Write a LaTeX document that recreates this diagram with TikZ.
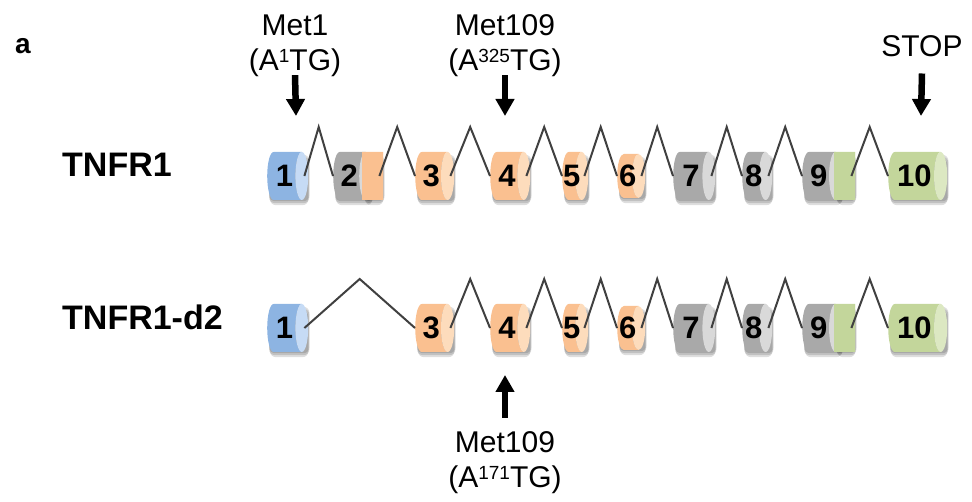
\documentclass[tikz,border=0pt]{standalone}
\usepackage{fontspec}
\setmainfont{Liberation Sans}
\usetikzlibrary{arrows.meta,shapes,positioning,backgrounds,calc}

\definecolor{exBlue}{HTML}{8DB4E2}
\definecolor{exBlueEnd}{HTML}{C6DBF5}
\definecolor{exOrange}{HTML}{FAC090}
\definecolor{exOrangeEnd}{HTML}{FDDCBC}
\definecolor{exGray}{HTML}{A9A9A9}
\definecolor{exGrayEnd}{HTML}{D9D9D9}
\definecolor{exGreen}{HTML}{C3D69B}
\definecolor{exGreenEnd}{HTML}{DCE8C2}
\definecolor{intronCol}{HTML}{404040}

\newcommand{\lblfont}{\fontsize{30}{35}\selectfont}
\newcommand{\sups}[1]{\raisebox{8.5pt}{\fontsize{19}{19}\selectfont #1}}
\newcommand{\exn}[1]{\makebox[0pt]{#1}}
\newcommand{\intron}[2]{\draw[intron] ([xshift=-4pt]#1.east) -- ($([xshift=-4pt]#1.east)!.5!(#2.west)+(0,-49)$) -- (#2.west);}

% cylinder: minimum height runs along the axis, minimum width is the diameter
\tikzstyle{exon} = [cylinder, shape border rotate=0, shape aspect=.6, cylinder uses custom fill, inner sep=0pt, minimum width=48pt, font=\fontsize{31}{31}\selectfont\bfseries]
\tikzstyle{exblue} = [exon, cylinder body fill=exBlue, cylinder end fill=exBlueEnd]
\tikzstyle{exorange} = [exon, cylinder body fill=exOrange, cylinder end fill=exOrangeEnd]
\tikzstyle{exgray} = [exon, cylinder body fill=exGray, cylinder end fill=exGrayEnd]
\tikzstyle{exgreen} = [exon, cylinder body fill=exGreen, cylinder end fill=exGreenEnd]
\tikzstyle{intron} = [draw=intronCol, line width=2pt]
\tikzstyle{bigarrow} = [line width=6.5pt, -{Triangle[width=18pt,length=17pt]}]
\tikzstyle{lbl} = [inner sep=0pt, align=center, font=\lblfont]
\tikzstyle{rowname} = [inner sep=0pt, anchor=base west, font=\fontsize{34}{34}\selectfont\bfseries]
\tikzstyle{exshade} = [fill=black, opacity=.13, rounded corners=6pt]

\begin{document}
\begin{tikzpicture}[x=1pt, y=-1pt]
        \useasboundingbox (0,0) rectangle (972,502);

        \node[rowname, font=\fontsize{28}{28}\selectfont\bfseries] (panel) at (15,54) {a};
        \node[rowname] (r1) at (62,177) {TNFR1};
        \node[rowname] (r2) at (62,330) {TNFR1-d2};

        % full length
        \node[exblue, anchor=west, minimum height=41pt] (e1) at (267,176) {\exn{1}};
        \node[exgray, anchor=west, minimum height=39pt] (e2) at (333,176) {\exn{2}};
        \node[exorange, anchor=west, minimum height=21pt] (e2b) at (362,176) {};
        \node[exorange, anchor=west, minimum height=39pt] (e3) at (415,176) {\exn{3}};
        \node[exorange, anchor=west, minimum height=40pt] (e4) at (490,176) {\exn{4}};
        \node[exorange, anchor=west, minimum height=26pt] (e5) at (562,176) {\exn{5}};
        \node[exorange, anchor=west, minimum height=28pt, minimum width=44pt] (e6) at (617,176) {\exn{6}};
        \node[exgray, anchor=west, minimum height=42pt] (e7) at (673,176) {\exn{7}};
        \node[exgray, anchor=west, minimum height=30pt] (e8) at (742,176) {\exn{8}};
        \node[exgray, anchor=west, minimum height=40pt] (e9) at (802,176) {\exn{9}};
        \node[exgreen, anchor=west, minimum height=21pt] (e9b) at (834,176) {};
        \node[exgreen, anchor=west, minimum height=59pt] (e10) at (888,176) {\exn{10}};

        % without exon 2
        \node[exblue, minimum height=41pt, below of=e1, node distance=152pt] (d1) {\exn{1}};
        \node[exorange, minimum height=39pt, below of=e3, node distance=152pt] (d3) {\exn{3}};
        \node[exorange, minimum height=40pt, below of=e4, node distance=152pt] (d4) {\exn{4}};
        \node[exorange, minimum height=26pt, below of=e5, node distance=152pt] (d5) {\exn{5}};
        \node[exorange, minimum height=28pt, minimum width=44pt, below of=e6, node distance=152pt] (d6) {\exn{6}};
        \node[exgray, minimum height=42pt, below of=e7, node distance=152pt] (d7) {\exn{7}};
        \node[exgray, minimum height=30pt, below of=e8, node distance=152pt] (d8) {\exn{8}};
        \node[exgray, minimum height=40pt, below of=e9, node distance=152pt] (d9) {\exn{9}};
        \node[exgreen, minimum height=21pt, below of=e9b, node distance=152pt] (d9b) {};
        \node[exgreen, minimum height=59pt, below of=e10, node distance=152pt] (d10) {\exn{10}};

        \begin{scope}[on background layer]
        \foreach \e in {e1,e2,e2b,e3,e4,e5,e6,e7,e8,e9,e9b,e10,d1,d3,d4,d5,d6,d7,d8,d9,d9b,d10} {
            \fill[exshade] ($(\e.west |- \e.south)+(2,1)$) rectangle ($(\e.east |- \e.north)+(1,3)$);
            \fill[exshade] ($(\e.west |- \e.south)+(2,3)$) rectangle ($(\e.east |- \e.north)+(1,5)$);
            \fill[exshade] ($(\e.west |- \e.south)+(3,5)$) rectangle ($(\e.east |- \e.north)+(0,7)$);
        }
        \end{scope}

        \intron{e1}{e2}
        \intron{e2b}{e3}
        \intron{e3}{e4}
        \intron{e4}{e5}
        \intron{e5}{e6}
        \intron{e6}{e7}
        \intron{e7}{e8}
        \intron{e8}{e9}
        \intron{e9b}{e10}

        \intron{d1}{d3}
        \intron{d3}{d4}
        \intron{d4}{d5}
        \intron{d5}{d6}
        \intron{d6}{d7}
        \intron{d7}{d8}
        \intron{d8}{d9}
        \intron{d9b}{d10}

        \node[lbl] (met1) at (295,46) {Met1\\(A\sups{1}TG)};
        \node[lbl] (met109) at (505,46) {Met109\\(A\sups{325}TG)};
        \node[lbl, anchor=base] (stop) at (922,57) {STOP};
        \node[lbl] (met109d) at (505,463) {Met109\\(A\sups{171}TG)};

        \coordinate (t1) at (296,116);
        \coordinate (t2) at (505,116);
        \coordinate (t3) at (921,116);
        \coordinate (t4) at (505,375);

        \draw[bigarrow] ([yshift=2pt]met1.south) -- (t1);
        \draw[bigarrow] ([yshift=2pt]met109.south) -- (t2);
        \draw[bigarrow] ([yshift=-16pt]stop.south) -- (t3);
        \draw[bigarrow] ([yshift=14pt]met109d.north) -- (t4);

    \end{tikzpicture}
\end{document}
